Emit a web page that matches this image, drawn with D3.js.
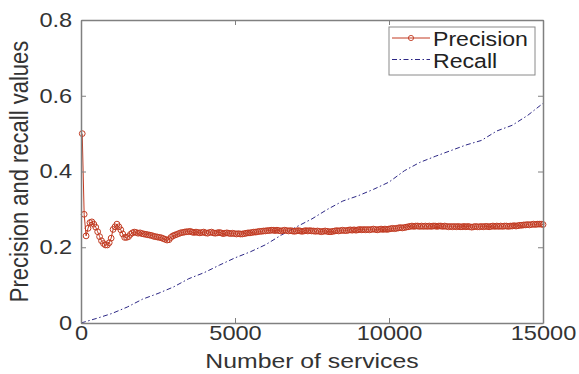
<!DOCTYPE html>
<html>
<head>
<meta charset="utf-8">
<script src="https://cdn.jsdelivr.net/npm/d3@7"></script>
<style>
  body { margin: 0; background: #fff; }
  text { font-family: "Liberation Sans", Arial, sans-serif; }
</style>
</head>
<body>
<script>
// precision sampled every ~62.6 services, starting at 40
const services = d3.range(240).map(i => 40 + i * 62.6);
const precision = [
  0.500, 0.287, 0.230, 0.250, 0.265, 0.267, 0.261, 0.253, 0.241, 0.228,
  0.217, 0.210, 0.206, 0.206, 0.212, 0.224, 0.247, 0.254, 0.261, 0.254,
  0.246, 0.235, 0.226, 0.226, 0.228, 0.234, 0.238, 0.240, 0.239, 0.237,
  0.238, 0.236, 0.235, 0.234, 0.233, 0.232, 0.231, 0.229, 0.228, 0.227,
  0.226, 0.225, 0.223, 0.221, 0.219, 0.220, 0.226, 0.230, 0.232, 0.234,
  0.236, 0.238, 0.239, 0.240, 0.241, 0.241, 0.242, 0.240, 0.239, 0.240,
  0.239, 0.238, 0.239, 0.240, 0.238, 0.237, 0.239, 0.240, 0.238, 0.237,
  0.238, 0.239, 0.238, 0.236, 0.237, 0.238, 0.237, 0.236, 0.237, 0.236,
  0.235, 0.236, 0.235, 0.235, 0.236, 0.237, 0.238, 0.238, 0.239, 0.240,
  0.240, 0.241, 0.242, 0.242, 0.243, 0.243, 0.244, 0.244, 0.245, 0.245,
  0.244, 0.245, 0.244, 0.243, 0.244, 0.245, 0.244, 0.243, 0.244, 0.243,
  0.242, 0.243, 0.244, 0.243, 0.242, 0.243, 0.244, 0.243, 0.244, 0.243,
  0.243, 0.242, 0.243, 0.242, 0.241, 0.242, 0.243, 0.242, 0.241, 0.241,
  0.242, 0.243, 0.244, 0.243, 0.244, 0.245, 0.244, 0.244, 0.245, 0.246,
  0.245, 0.246, 0.245, 0.246, 0.247, 0.246, 0.247, 0.246, 0.247, 0.246,
  0.247, 0.248, 0.247, 0.246, 0.247, 0.248, 0.247, 0.248, 0.247, 0.248,
  0.249, 0.250, 0.249, 0.250, 0.251, 0.252, 0.251, 0.252, 0.253, 0.254,
  0.255, 0.256, 0.255, 0.256, 0.256, 0.255, 0.256, 0.255, 0.256, 0.255,
  0.256, 0.255, 0.256, 0.256, 0.255, 0.256, 0.256, 0.255, 0.256, 0.255,
  0.254, 0.255, 0.254, 0.255, 0.254, 0.255, 0.254, 0.254, 0.255, 0.254,
  0.255, 0.254, 0.253, 0.254, 0.255, 0.254, 0.254, 0.255, 0.254, 0.255,
  0.255, 0.254, 0.255, 0.256, 0.255, 0.256, 0.255, 0.256, 0.255, 0.256,
  0.256, 0.255, 0.256, 0.256, 0.257, 0.256, 0.257, 0.258, 0.258, 0.259,
  0.259, 0.260, 0.259, 0.260, 0.261, 0.260, 0.261, 0.261, 0.261, 0.260
];

const recallServices = [0, 500, 1000, 1500, 2000, 2500, 3000, 3500, 4000, 4500,
  5000, 5500, 6000, 6500, 7000, 7500, 8000, 8500, 9000, 9500, 10000,
  10500, 11000, 11500, 12000, 12500, 13000, 13500, 14000, 14500, 15000];
const recall = [0, 0.012, 0.025, 0.042, 0.063, 0.078, 0.095, 0.117, 0.133, 0.153,
  0.172, 0.188, 0.207, 0.232, 0.254, 0.275, 0.300, 0.322, 0.336, 0.353, 0.372,
  0.402, 0.424, 0.440, 0.455, 0.470, 0.482, 0.507, 0.522, 0.548, 0.580];

const xTicks = [0, 5000, 10000, 15000];
const yTicks = [0, 0.2, 0.4, 0.6, 0.8];
const seriesNames = ["Precision", "Recall"];

const width = 579;
const height = 374;
const margin = {top: 20, right: 36, bottom: 51, left: 81};
const precColor = "#c23b22";
const recColor = "#2c2785";
const dashDot = "5,2.5,1.5,2.5";
const stretch = "scale(1.18,1)";

const x = d3.scaleLinear()
    .domain([0, 15000])
    .range([margin.left, width - margin.right]);

const y = d3.scaleLinear()
    .domain([0, 0.8])
    .range([height - margin.bottom, margin.top]);

const svg = d3.select("body").append("svg")
    .attr("width", width)
    .attr("height", height);

// recall (dash-dot)
svg.append("path")
    .datum(recallServices.map((s, i) => [s, recall[i]]))
    .attr("fill", "none")
    .attr("stroke", recColor)
    .attr("stroke-width", 1)
    .attr("stroke-dasharray", dashDot)
    .attr("d", d3.line().x(d => x(d[0])).y(d => y(d[1])));

// precision line + hollow circle markers
const precData = services.map((s, i) => [s, precision[i]]);

svg.append("path")
    .datum(precData)
    .attr("fill", "none")
    .attr("stroke", precColor)
    .attr("stroke-width", 1)
    .attr("d", d3.line().x(d => x(d[0])).y(d => y(d[1])));

svg.append("g")
  .selectAll("circle")
  .data(precData)
  .join("circle")
    .attr("cx", d => x(d[0]))
    .attr("cy", d => y(d[1]))
    .attr("r", 2.9)
    .attr("fill", "none")
    .attr("stroke", precColor)
    .attr("stroke-width", 1);

// axes (box with inward ticks)
const axisStyle = g => {
  g.select(".domain").attr("stroke", "#808080").attr("stroke-width", 1.5);
  g.selectAll(".tick line").attr("stroke", "#808080").attr("stroke-width", 1);
  g.selectAll(".tick text")
      .attr("fill", "#333")
      .attr("font-size", 20)
      .attr("transform", stretch);
};

svg.append("g")
    .attr("transform", `translate(0,${y(0)})`)
    .call(d3.axisBottom(x).tickValues(xTicks).tickFormat(d3.format("d"))
      .tickSizeInner(-5).tickSizeOuter(0).tickPadding(5))
    .call(axisStyle)
    .call(g => g.selectAll(".tick text").attr("dy", "0.71em").attr("y", 3));

svg.append("g")
    .attr("transform", `translate(0,${y(0.8)})`)
    .call(d3.axisTop(x).tickValues(xTicks).tickFormat("")
      .tickSizeInner(-5).tickSizeOuter(0))
    .call(axisStyle);

svg.append("g")
    .attr("transform", `translate(${x(0)},0)`)
    .call(d3.axisLeft(y).tickValues(yTicks).tickFormat(d => d === 0 ? "0" : d3.format(".1f")(d))
      .tickSizeInner(-5).tickSizeOuter(0))
    .call(axisStyle)
    .call(g => g.selectAll(".tick text").attr("x", -7.5));

svg.append("g")
    .attr("transform", `translate(${x(15000)},0)`)
    .call(d3.axisRight(y).tickValues(yTicks).tickFormat("")
      .tickSizeInner(-5).tickSizeOuter(0))
    .call(axisStyle);

// axis titles
svg.append("text")
    .attr("transform", `translate(${(x(0) + x(15000)) / 2},368) ${stretch}`)
    .attr("text-anchor", "middle")
    .attr("font-size", 21)
    .attr("fill", "#333")
    .text("Number of services");

svg.append("text")
    .attr("transform", `translate(28,${(y(0) + y(0.8)) / 2}) rotate(-90) scale(1,1.15)`)
    .attr("text-anchor", "middle")
    .attr("font-size", 22)
    .attr("fill", "#333")
    .text("Precision and recall values");

// legend
const legend = svg.append("g");

legend.append("rect")
    .attr("x", 389).attr("y", 27)
    .attr("width", 146).attr("height", 48)
    .attr("fill", "#fff")
    .attr("stroke", "#8a8a8a")
    .attr("stroke-width", 1);

const rows = legend.selectAll("g.row")
  .data(seriesNames)
  .join("g")
    .attr("class", "row")
    .attr("transform", (d, i) => `translate(392,${38 + i * 21.5})`);

rows.append("line")
    .attr("x1", 0).attr("x2", 38)
    .attr("stroke", (d, i) => i === 0 ? precColor : recColor)
    .attr("stroke-width", 1)
    .attr("stroke-dasharray", (d, i) => i === 0 ? null : dashDot);

rows.filter((d, i) => i === 0).append("circle")
    .attr("cx", 19).attr("r", 2.6)
    .attr("fill", "none")
    .attr("stroke", precColor)
    .attr("stroke-width", 0.9);

rows.append("text")
    .attr("transform", `translate(41,8) scale(1.1,1)`)
    .attr("font-size", 21)
    .attr("fill", "#222")
    .text(d => d);
</script>
</body>
</html>
